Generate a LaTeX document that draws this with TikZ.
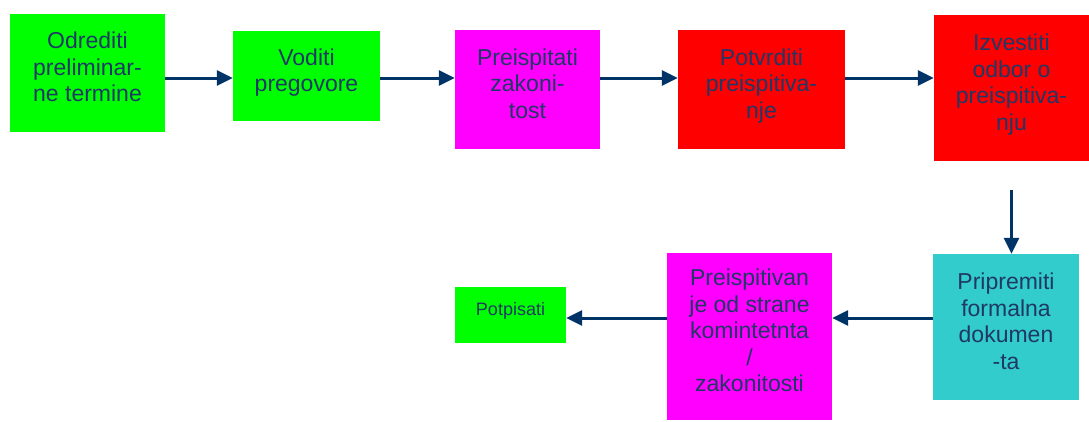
\documentclass[tikz,border=0pt]{standalone}
\usepackage{fontspec}
\setmainfont{Liberation Sans}
\usepackage{tikz}
\usetikzlibrary{arrows.meta}
\definecolor{txt}{rgb}{0.12, 0.22, 0.40}
\definecolor{arr}{rgb}{0, 0.2, 0.4}
\definecolor{zel}{rgb}{0, 1, 0}
\definecolor{ljub}{rgb}{1, 0, 1}
\definecolor{crv}{rgb}{1, 0, 0}
\definecolor{tirk}{rgb}{0.2, 0.8, 0.8}
\tikzstyle{box}=[rectangle, inner sep=0pt, align=center, text=txt, text depth=12pt, font=\fontsize{23}{26.5}\selectfont]
\tikzstyle{flow}=[draw=arr, line width=3pt, -{Triangle[length=16pt,width=15pt]}]

\begin{document}
\begin{tikzpicture}[x=1pt,y=-1pt]
\useasboundingbox (0,0) rectangle (1089,421);

\node[box, fill=zel, minimum width=155pt, minimum height=118pt] (odrediti) at (87.5,73) {Odrediti\\preliminar-\\ne termine};
\node[box, fill=zel, minimum width=147pt, minimum height=90pt] (voditi) at (306.5,76) {Voditi\\pregovore};
\node[box, fill=ljub, minimum width=145pt, minimum height=119pt] (zakonitost) at (527.5,89.5) {Preispitati\\zakoni-\\tost};
\node[box, fill=crv, minimum width=167pt, minimum height=119pt] (potvrditi) at (761.5,89.5) {Potvrditi\\preispitiva-\\nje};
\node[box, fill=crv, minimum width=155pt, minimum height=146pt] (izvestiti) at (1011.5,88) {Izvestiti\\odbor o\\preispitiva-\\nju};
\node[box, fill=tirk, minimum width=146pt, minimum height=146pt] (pripremiti) at (1006,327) {Pripremiti\\formalna\\dokumen\\-ta};
\node[box, fill=ljub, minimum width=165pt, minimum height=167pt] (komitet) at (749.5,336.5) {Preispitivan\\je od strane\\komintetnta\\/\\zakonitosti};
\node[box, fill=zel, minimum width=111pt, minimum height=56pt, font=\fontsize{18}{21}\selectfont] (potpisati) at (510.5,314.5) {Potpisati};

\coordinate (red1) at (0,78);
\coordinate (red2) at (0,318);
\coordinate (dole) at ([yshift=-29pt]izvestiti.south);

\draw[flow] (odrediti.east |- red1) -- (voditi.west |- red1);
\draw[flow] (voditi.east |- red1) -- (zakonitost.west |- red1);
\draw[flow] (zakonitost.east |- red1) -- (potvrditi.west |- red1);
\draw[flow] (potvrditi.east |- red1) -- (izvestiti.west |- red1);
\draw[flow] (dole) -- (pripremiti.north -| dole);
\draw[flow] (pripremiti.west |- red2) -- (komitet.east |- red2);
\draw[flow] (komitet.west |- red2) -- (potpisati.east |- red2);
\end{tikzpicture}
\end{document}
